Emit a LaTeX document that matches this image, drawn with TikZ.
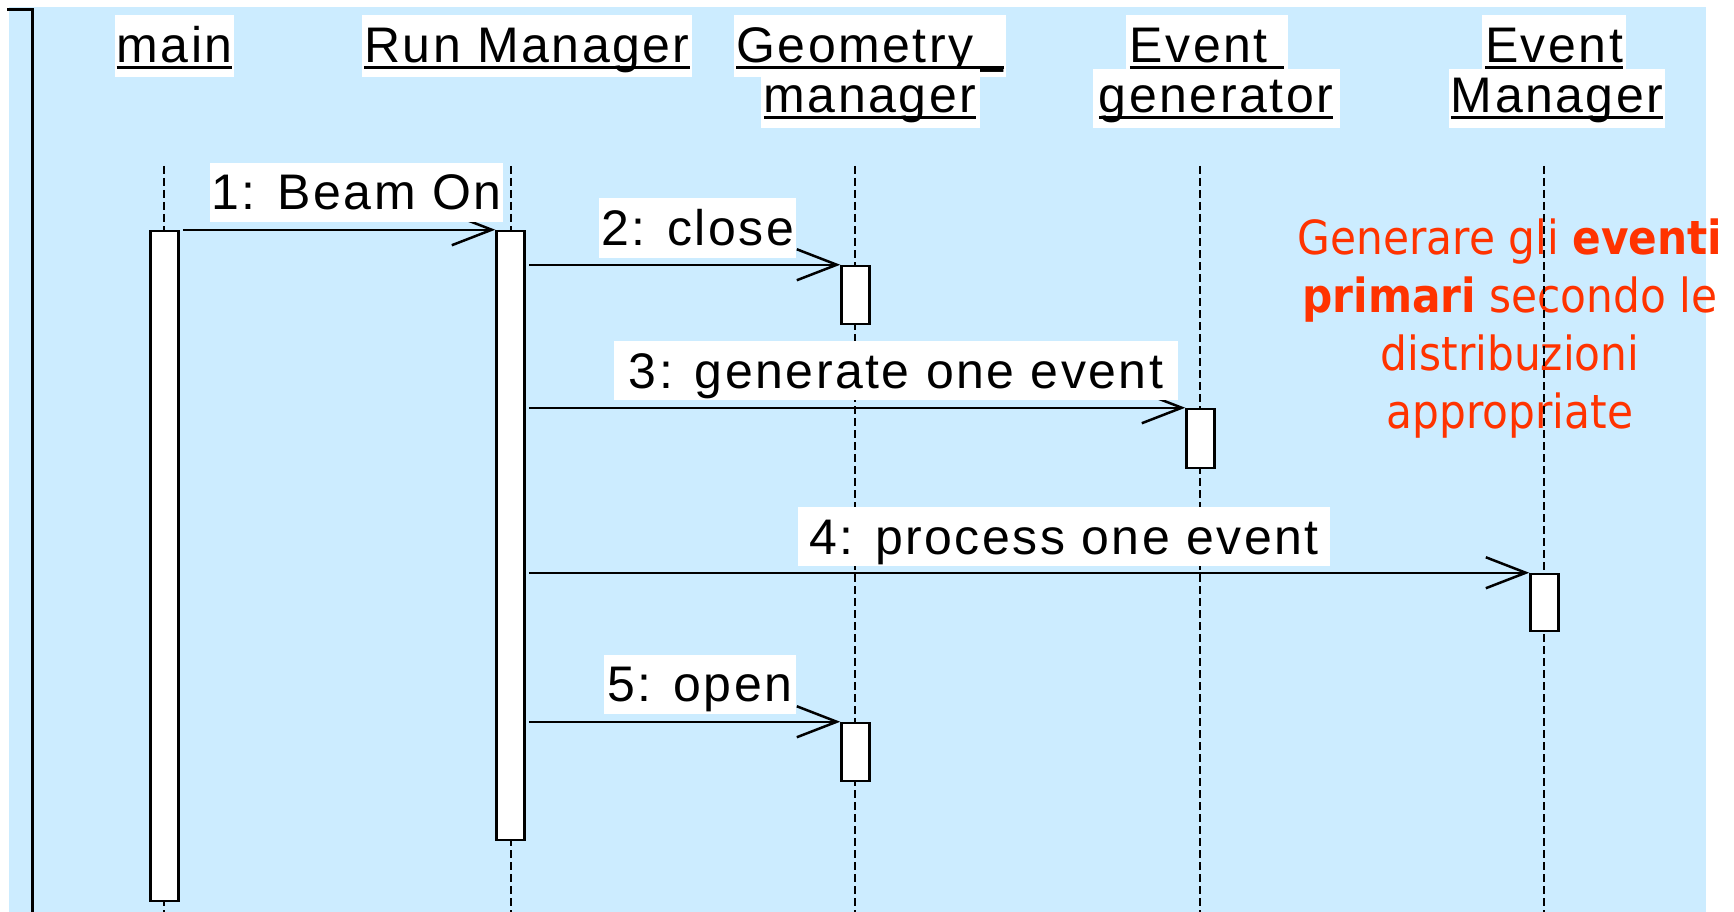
\documentclass[tikz,border=0pt]{standalone}
\usepackage{fontspec}
\setmainfont{Liberation Sans}[LetterSpace=5]
\newfontfamily\notefont{DejaVu Sans Condensed}
\usetikzlibrary{arrows.meta}

\definecolor{panel}{RGB}{204,236,255}
\definecolor{notered}{RGB}{255,51,0}

% underlined object name (UML instance style)
\newcommand\objname[1]{\setbox0\hbox{#1}\rlap{\rule[-6pt]{\wd0}{2.6pt}}\box0}

\tikzset{
  hdrtop/.style={fill=white, inner xsep=2pt, inner ysep=0pt,
    text height=48pt, text depth=14pt, font=\fontsize{50}{60}\selectfont},
  hdrbot/.style={fill=white, inner xsep=2pt, inner ysep=0pt,
    text height=44pt, text depth=15pt, font=\fontsize{50}{60}\selectfont},
  msglabel/.style={fill=white, inner xsep=2pt, inner ysep=0pt,
    text height=47pt, text depth=12pt, font=\fontsize{50}{60}\selectfont},
  activation/.style={draw, fill=white, line width=2.5pt, minimum width=28pt, inner sep=0pt},
  lifeline/.style={line width=2pt, dash pattern=on 8pt off 4pt},
  msg/.style={line width=2.5pt, shorten <=3pt, -{Straight Barb[length=40pt,width=31pt]}},
}

\begin{document}
\begin{tikzpicture}[x=1pt,y=-1pt]
\useasboundingbox (0,0) rectangle (1734,912);

% panel and frame edge
\fill[panel] (9,7) rectangle (1706,912);
\draw[line width=3pt] (7,10) -- (32,10) -- (32,912);

% note
\node[font=\notefont\fontsize{47}{58}\selectfont, text=notered, align=center,
      anchor=north, inner sep=0pt] (note) at (1510,219)
  {Generare gli \textbf{eventi}\\ \textbf{primari} secondo le\\ distribuzioni\\ appropriate};

% lifelines
\coordinate (bottom) at (0,912);
\coordinate (lmain) at (164,166);
\coordinate (lrun)  at (511,166);
\coordinate (lgeo)  at (855,166);
\coordinate (lgen)  at (1200,166);
\coordinate (lev)   at (1544,166);
\foreach \l in {lmain,lrun,lgeo,lgen,lev}
  \draw[lifeline] (\l) -- (\l |- bottom);

% activation bars
\node[activation, minimum height=670pt] (amain) at (164.5,566) {};
\node[activation, minimum height=609pt] (arun)  at (510.5,535.5) {};
\node[activation, minimum height=58pt]  (ageoA) at (855.5,295) {};
\node[activation, minimum height=59pt]  (agen)  at (1200.5,438.5) {};
\node[activation, minimum height=57pt]  (aev)   at (1544.5,602.5) {};
\node[activation, minimum height=58pt]  (ageoB) at (855.5,752) {};

% messages
\draw[msg] (amain.east |- arun.north) -- (arun.north west);
\draw[msg] (arun.east |- ageoA.north) -- (ageoA.north west);
\draw[msg] (arun.east |- agen.north)  -- (agen.north west);
\draw[msg] (arun.east |- aev.north)   -- (aev.north west);
\draw[msg] (arun.east |- ageoB.north) -- (ageoB.north west);

% message labels
\node[msglabel, minimum width=293pt] (m1) at (356.5,192.5) {1: Beam On};
\node[msglabel, minimum width=197pt] (m2) at (697.5,228)   {2: close};
\node[msglabel, minimum width=564pt] (m3) at (896,370.5)   {3: generate one event};
\node[msglabel, minimum width=532pt] (m4) at (1064,536.5)  {4: process one event};
\node[msglabel, minimum width=192pt] (m5) at (700,684)     {5: open};

% object headers
\node[hdrtop, minimum width=119pt] (hmain) at (174.5,46) {\objname{main}};
\node[hdrtop, minimum width=324pt] (hrun)  at (527,46)   {\objname{Run Manager}};
\node[hdrtop, minimum width=265pt] (hgeo1) at (870,46)   {\objname{Geometry\_}};
\node[hdrbot, minimum width=219pt] (hgeo2) at (870,98.5) {\objname{manager}};
\node[hdrtop, minimum width=162pt] (hgen1) at (1207,46)  {\objname{Event\ }};
\node[hdrbot, minimum width=247pt] (hgen2) at (1216,98.5){\objname{generator}};
\node[hdrtop, minimum width=144pt] (hev1)  at (1554,46)  {\objname{Event}};
\node[hdrbot, minimum width=210pt] (hev2)  at (1557,98.5){\objname{Manager}};
\end{tikzpicture}
\end{document}
